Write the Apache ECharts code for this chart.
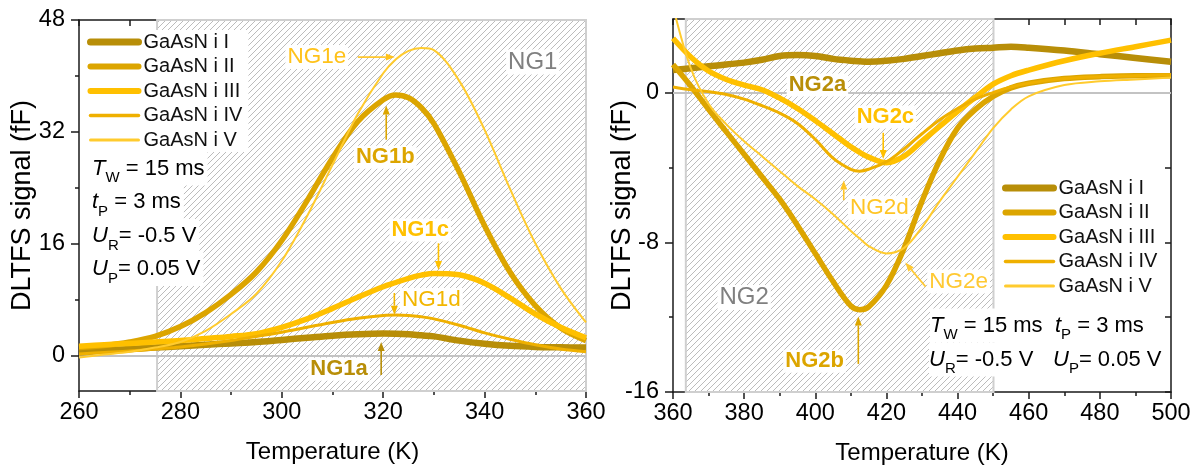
<!DOCTYPE html>
<html><head><meta charset="utf-8">
<script src="https://cdn.jsdelivr.net/npm/echarts@6/dist/echarts.min.js"></script>
<style>html,body{margin:0;padding:0;background:#fff}#c{width:1198px;height:470px}</style>
</head><body><div id="c"></div>
<script>
// ---------------- DATA ----------------
const seriesNames = ['GaAsN i I', 'GaAsN i II', 'GaAsN i III', 'GaAsN i IV', 'GaAsN i V'];

// Left panel (NG1), temperature in K
const tempLeft = [260,265,270,275,280,285,290,295,300,305,310,315,320,322.5,325,327.5,330,335,340,345,350,355,360];
const leftI   = [0.5,0.8,1.0,1.2,1.4,1.6,1.8,2.0,2.3,2.6,2.9,3.1,3.2,3.18,3.1,2.95,2.8,2.2,1.75,1.45,1.3,1.25,1.2];
const leftII  = [1.2,1.5,2.0,2.8,4.2,6.2,8.8,12.0,16.5,22.2,28.3,33.5,36.6,37.3,36.9,35.5,33.2,26.3,18.6,12.0,7.2,4.0,2.2];
const leftIII = [1.4,1.6,1.8,2.0,2.2,2.5,2.8,3.2,4.1,5.3,6.8,8.4,9.9,10.5,11.1,11.55,11.8,11.6,10.4,8.3,6.0,4.1,2.6];
const leftIV  = [0.3,0.5,0.7,1.0,1.3,1.7,2.2,2.8,3.4,4.1,4.8,5.4,5.8,5.85,5.8,5.6,5.3,4.4,3.3,2.4,1.6,1.0,0.6];
const leftV   = [-0.2,0.2,0.6,1.2,2.0,3.6,6.0,8.9,13.6,20.0,27.3,34.6,40.4,42.4,43.6,44.0,43.7,39.3,32.3,23.9,16.1,9.7,4.8];

// Right panel (NG2)
const tempRight = [360,365,370,375,380,385,390,395,400,405,410,412.5,415,420,425,430,435,440,445,450,455,460,470,480,490,500];
const rightI   = [1.2,1.3,1.4,1.5,1.6,1.75,1.95,2.0,1.95,1.8,1.7,1.67,1.65,1.7,1.8,1.95,2.1,2.25,2.35,2.4,2.45,2.4,2.25,2.05,1.85,1.65];
const rightII  = [1.5,0.35,-0.9,-2.1,-3.3,-4.5,-5.7,-7.1,-8.6,-10.1,-11.4,-11.6,-11.45,-10.3,-8.3,-5.8,-3.6,-1.9,-0.9,-0.2,0.25,0.5,0.75,0.85,0.9,0.9];
const rightIII = [2.9,1.9,1.15,0.7,0.4,0.15,-0.3,-0.85,-1.5,-2.2,-2.9,-3.2,-3.45,-3.75,-3.4,-2.6,-1.8,-1.0,-0.25,0.45,0.9,1.2,1.7,2.1,2.45,2.8];
const rightIV  = [0.3,0.15,0.05,-0.1,-0.35,-0.7,-1.1,-1.65,-2.5,-3.5,-4.1,-4.2,-4.1,-3.7,-3.0,-2.2,-1.45,-0.85,-0.35,0.0,0.3,0.5,0.75,0.85,0.9,0.95];
const rightV   = [4.6,1.3,-0.6,-1.7,-2.6,-3.4,-4.2,-5.0,-5.7,-6.5,-7.4,-7.8,-8.2,-8.6,-8.3,-7.2,-5.8,-4.5,-3.2,-1.9,-0.9,-0.2,0.4,0.6,0.7,0.8];

// Tick labels
const yTicksLeft = [0, 16, 32, 48];
const yTicksRight = [-16, -8, 0];

// ---------------- STYLE ----------------
const FONT = "'Liberation Sans', Arial, Helvetica, sans-serif";
const colors = ['#B88E08', '#DCA500', '#FFC000', '#EFB000', '#FFCB2E'];
const widths = [6.5, 5.5, 5.5, 3, 2];
const legendWidths = [7, 6, 6, 3.5, 3];
const AX = '#1a1a1a';

function hatchCanvas() {
  const s = 6, c = document.createElement('canvas');
  c.width = s; c.height = s;
  const g = c.getContext('2d');
  g.fillStyle = '#fff'; g.fillRect(0, 0, s, s);
  g.strokeStyle = '#bcbcbc'; g.lineWidth = 1;
  g.beginPath();
  g.moveTo(0, s); g.lineTo(s, 0);
  g.moveTo(-1, 1); g.lineTo(1, -1);
  g.moveTo(s - 1, s + 1); g.lineTo(s + 1, s - 1);
  g.stroke();
  return c;
}
const hatch = { image: hatchCanvas(), repeat: 'repeat' };

const leftSets = [leftI, leftII, leftIII, leftIV, leftV];
const rightSets = [rightI, rightII, rightIII, rightIV, rightV];

function mkSeries(temps, vals, k, xi, yi, region) {
  const s = {
    name: seriesNames[k], type: 'line', xAxisIndex: xi, yAxisIndex: yi,
    data: temps.map((t, i) => [t, vals[i]]),
    smooth: 0.35, symbol: 'none', showSymbol: false, clip: true, silent: true,
    lineStyle: { color: colors[k], width: widths[k] },
    itemStyle: { color: colors[k] }
  };
  if (k === 0) {
    s.markArea = {
      silent: true, z: 0.5,
      itemStyle: { color: hatch, borderColor: '#cfcfcf', borderWidth: 2 },
      data: [[{ xAxis: region[0] }, { xAxis: region[1] }]]
    };
    s.markLine = {
      silent: true, z: 1, symbol: ['none', 'none'], label: { show: false },
      lineStyle: { color: '#c3c3c3', width: 2, type: 'solid' },
      data: [{ yAxis: 0 }]
    };
  }
  return s;
}

const series = [];
leftSets.forEach((v, k) => series.push(mkSeries(tempLeft, v, k, 0, 0, [275.4, 360])));
rightSets.forEach((v, k) => series.push(mkSeries(tempRight, v, k, 2, 3, [363.6, 450.1])));

const axLine = { show: true, onZero: false, lineStyle: { color: AX, width: 1.5 } };
const tickLS = { color: AX, width: 1.5 };
const labelSt = { fontSize: 23.5, color: '#000', fontFamily: FONT };
const nameSt = { fontSize: 24, color: '#000', fontFamily: FONT };
const yNameSt = { fontSize: 27, color: '#000', fontFamily: FONT };

function xBottom(gi, min, max) {
  return {
    gridIndex: gi, type: 'value', position: 'bottom', min, max, interval: 20,
    axisLine: axLine, axisTick: { show: true, length: 7, lineStyle: tickLS },
    minorTick: { show: true, splitNumber: 2, length: 4, lineStyle: tickLS },
    axisLabel: Object.assign({ margin: 10 }, labelSt),
    splitLine: { show: false }, minorSplitLine: { show: false },
    name: 'Temperature (K)', nameLocation: 'middle', nameGap: 49, nameMoveOverlap: false, nameTextStyle: nameSt
  };
}
function xTop(gi, min, max) {
  return {
    gridIndex: gi, type: 'value', position: 'top', min, max, interval: 10,
    axisLine: axLine, axisTick: { show: true, inside: true, length: 6, lineStyle: tickLS },
    axisLabel: { show: false }, splitLine: { show: false }
  };
}
function yAxes(gi, min, max, labels, minor, allTicks, gap) {
  return [
    {
      gridIndex: gi, type: 'value', position: 'left', min, max,
      axisLine: axLine,
      axisTick: { show: true, length: 8, lineStyle: tickLS, customValues: labels },
      axisLabel: Object.assign({ margin: 14, customValues: labels }, labelSt),
      splitLine: { show: false },
      name: 'DLTFS signal (fF)', nameLocation: 'middle', nameGap: gap, nameMoveOverlap: false, nameTextStyle: yNameSt
    },
    {
      gridIndex: gi, type: 'value', position: 'left', min, max,
      axisLine: { show: false },
      axisTick: { show: true, length: 4, lineStyle: tickLS, customValues: minor },
      axisLabel: { show: false }, splitLine: { show: false }
    },
    {
      gridIndex: gi, type: 'value', position: 'right', min, max,
      axisLine: axLine,
      axisTick: { show: true, inside: true, length: 6, lineStyle: tickLS, customValues: allTicks },
      axisLabel: { show: false }, splitLine: { show: false }
    }
  ];
}

function legendFor(left, top) {
  return {
    orient: 'vertical', left, top, padding: [2, 6, 2, 0], backgroundColor: '#fff',
    itemWidth: 48, itemHeight: 14, itemGap: 4.5, selectedMode: false,
    textStyle: { fontSize: 20, color: '#111', fontFamily: FONT, lineHeight: 20 },
    data: seriesNames.map((n, k) => ({
      name: n,
      itemStyle: { opacity: 0 },
      lineStyle: { width: legendWidths[k], cap: 'round', color: colors[k] }
    }))
  };
}

const chart = echarts.init(document.getElementById('c'), null, { renderer: 'canvas' });
chart.setOption({
  animation: false,
  backgroundColor: '#fff',
  textStyle: { fontFamily: FONT },
  grid: [
    { left: 79, top: 20, right: 612, bottom: 79 },
    { left: 673, top: 19, right: 27, bottom: 77.3 }
  ],
  xAxis: [xBottom(0, 260, 360), xTop(0, 260, 360), xBottom(1, 360, 500), xTop(1, 360, 500)],
  yAxis: [].concat(
    yAxes(0, -5, 48, yTicksLeft, [8, 24, 40], [0, 8, 16, 24, 32, 40, 48], 43),
    yAxes(1, -16, 3.93, yTicksRight, [-12, -4], [-16, -12, -8, -4, 0], 37)
  ),
  legend: [legendFor(87, 30), legendFor(1002, 176)],
  series
});

// ---------------- ANNOTATIONS ----------------
const GRAY = '#808080';
const notes = [
  { s: 0, t: 'NG1e', p: [306.9, 42.7], c: '#FFC21A', b: false, f: 22.5 },
  { s: 0, t: 'NG1', p: [349.5, 42.0], c: GRAY, b: false, f: 24 },
  { s: 0, t: 'NG1b', p: [320.4, 28.4], c: colors[1], b: true, f: 22 },
  { s: 0, t: 'NG1c', p: [327.3, 18.0], c: colors[2], b: true, f: 22 },
  { s: 0, t: 'NG1d', p: [329.5, 8.0], c: '#F2B600', b: false, f: 22.5 },
  { s: 0, t: 'NG1a', p: [311.3, -1.9], c: colors[0], b: true, f: 22 },
  { s: 5, t: 'NG2a', p: [400.6, 0.41], c: colors[0], b: true, f: 22 },
  { s: 5, t: 'NG2c', p: [419.7, -1.3], c: colors[2], b: true, f: 22 },
  { s: 5, t: 'NG2d', p: [418.0, -6.15], c: '#FFC526', b: false, f: 22.5 },
  { s: 5, t: 'NG2e', p: [440.3, -10.1], c: '#FFC933', b: false, f: 22.5 },
  { s: 5, t: 'NG2', p: [380.0, -10.95], c: GRAY, b: false, f: 24 },
  { s: 5, t: 'NG2b', p: [399.8, -14.36], c: colors[1], b: true, f: 22 }
];
const arrows = [
  { s: 0, a: [315.0, 42.7], b: [322.3, 42.7], c: '#FFC21A' },
  { s: 0, a: [320.6, 30.9], b: [320.6, 35.8], c: colors[1] },
  { s: 0, a: [330.9, 16.1], b: [330.9, 12.3], c: colors[2] },
  { s: 0, a: [322.2, 9.0], b: [322.2, 5.9], c: '#F2B600' },
  { s: 0, a: [319.6, -2.7], b: [319.6, 2.0], c: colors[0] },
  { s: 5, a: [419.1, -2.15], b: [419.1, -3.55], c: colors[2] },
  { s: 5, a: [408.0, -5.75], b: [408.0, -4.7], c: '#FFC526' },
  { s: 5, a: [431.0, -10.37], b: [425.3, -9.08], c: '#FFC933' },
  { s: 5, a: [412.1, -14.5], b: [412.1, -11.96], c: colors[1] }
];
const params = [
  { x: 92, y: 168.5, sym: 'T', sub: 'W', rest: ' = 15 ms' },
  { x: 92, y: 202, sym: 't', sub: 'P', rest: ' = 3 ms' },
  { x: 92, y: 236, sym: 'U', sub: 'R', rest: '= -0.5 V' },
  { x: 92, y: 269, sym: 'U', sub: 'P', rest: '= 0.05 V' },
  { x: 930, y: 325.5, sym: 'T', sub: 'W', rest: ' = 15 ms' },
  { x: 1055, y: 325.5, sym: 't', sub: 'P', rest: ' = 3 ms' },
  { x: 929, y: 359.5, sym: 'U', sub: 'R', rest: '= -0.5 V' },
  { x: 1053, y: 359.5, sym: 'U', sub: 'P', rest: '= 0.05 V' }
];

const g = [];
notes.forEach(n => {
  const [x, y] = chart.convertToPixel({ seriesIndex: n.s }, n.p);
  g.push({
    type: 'text', x, y, z: 20, silent: true,
    style: {
      text: n.t, fill: n.c, fontFamily: FONT, fontSize: n.f, fontWeight: n.b ? 'bold' : 'normal',
      align: 'center', verticalAlign: 'middle', backgroundColor: '#fff', padding: [1, 2, 0, 2]
    }
  });
});
arrows.forEach(a => {
  const p1 = chart.convertToPixel({ seriesIndex: a.s }, a.a);
  const p2 = chart.convertToPixel({ seriesIndex: a.s }, a.b);
  const dx = p2[0] - p1[0], dy = p2[1] - p1[1], L = Math.hypot(dx, dy);
  const ux = dx / L, uy = dy / L, hl = 9, hw = 3.5;
  const bx = p2[0] - ux * hl, by = p2[1] - uy * hl;
  g.push({ type: 'line', z: 21, silent: true, shape: { x1: p1[0], y1: p1[1], x2: bx, y2: by }, style: { stroke: a.c, lineWidth: 1.6 } });
  g.push({ type: 'polygon', z: 21, silent: true, shape: { points: [[p2[0], p2[1]], [bx - uy * hw, by + ux * hw], [bx + uy * hw, by - ux * hw]] }, style: { fill: a.c } });
});
params.forEach(p => {
  g.push({
    type: 'text', x: p.x, y: p.y, z: 20, silent: true,
    style: {
      text: '{i|' + p.sym + '}{s|' + p.sub + '}{n|' + p.rest + '}',
      align: 'left', verticalAlign: 'middle', backgroundColor: '#fff', padding: [0, 3, 0, 0],
      rich: {
        i: { fontFamily: FONT, fontStyle: 'italic', fontSize: 22, lineHeight: 34, fill: '#000' },
        s: { fontFamily: FONT, fontSize: 15, lineHeight: 15, verticalAlign: 'bottom', fill: '#000' },
        n: { fontFamily: FONT, fontSize: 22, lineHeight: 34, fill: '#000' }
      }
    }
  });
});
chart.setOption({ graphic: g });
</script>
</body></html>
